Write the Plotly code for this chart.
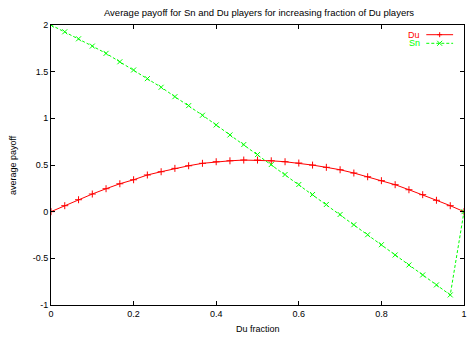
import plotly.graph_objects as go

du_fraction = [0, 0.0333, 0.0667, 0.1, 0.1333, 0.1667, 0.2, 0.2333, 0.2667, 0.3,
               0.3333, 0.3667, 0.4, 0.4333, 0.4667, 0.5, 0.5333, 0.5667, 0.6, 0.6333,
               0.6667, 0.7, 0.7333, 0.7667, 0.8, 0.8333, 0.8667, 0.9, 0.9333, 0.9667, 1.0]
du_payoff = [0, 0.064, 0.128, 0.189, 0.246, 0.299, 0.342, 0.393, 0.428, 0.464,
             0.492, 0.518, 0.535, 0.545, 0.553, 0.553, 0.545, 0.535, 0.521, 0.499,
             0.475, 0.449, 0.414, 0.374, 0.332, 0.289, 0.235, 0.182, 0.122, 0.064, 0]
sn_payoff = [2.0, 1.927, 1.852, 1.774, 1.696, 1.606, 1.518, 1.425, 1.333, 1.232,
             1.136, 1.033, 0.929, 0.822, 0.719, 0.612, 0.505, 0.398, 0.291, 0.184,
             0.077, -0.030, -0.140, -0.247, -0.354, -0.464, -0.571, -0.678, -0.785, -0.892, 0]

x_tickvals = [0, 0.2, 0.4, 0.6, 0.8, 1]
x_ticktext = ["0", "0.2", "0.4", "0.6", "0.8", "1"]
y_tickvals = [-1, -0.5, 0, 0.5, 1, 1.5, 2]
y_ticktext = ["-1", "-0.5", "0", "0.5", "1", "1.5", "2"]

RED = "#ff0000"
GREEN = "#00ff00"
FONT = "Liberation Sans, Arial, sans-serif"

fig = go.Figure()
fig.add_trace(go.Scatter(
    x=du_fraction, y=du_payoff, mode="lines+markers", name="Du",
    line=dict(color=RED, width=1),
    marker=dict(symbol="cross-thin", size=5, line=dict(color=RED, width=1)),
))
fig.add_trace(go.Scatter(
    x=du_fraction, y=sn_payoff, mode="lines+markers", name="Sn",
    line=dict(color=GREEN, width=1, dash="3px,2px"),
    marker=dict(symbol="x-thin", size=5, line=dict(color=GREEN, width=1)),
))

axis_common = dict(
    showgrid=False, zeroline=False, showline=True, linecolor="black", linewidth=1,
    mirror="ticks", ticks="inside", ticklen=4, tickcolor="black", tickwidth=1,
    tickfont=dict(family=FONT, size=9, color="black"),
)

fig.update_xaxes(range=[0, 1], tickvals=x_tickvals, ticktext=x_ticktext,
                 ticklabeloverflow="allow", **axis_common)
fig.update_yaxes(range=[-1, 2], tickvals=y_tickvals, ticktext=y_ticktext, **axis_common)

# custom legend (text left of sample, gnuplot style)
legend_items = [("Du", RED, 0.9654, "solid"), ("Sn", GREEN, 0.9346, "3px,2px")]
for name, color, yy, dash in legend_items:
    fig.add_annotation(x=0.898, y=yy, xref="paper", yref="paper", text=name,
                       showarrow=False, xanchor="right", yanchor="middle",
                       font=dict(family=FONT, size=9, color=color))
    fig.add_shape(type="line", xref="paper", yref="paper", x0=0.9087, x1=0.9736,
                  y0=yy, y1=yy, line=dict(color=color, width=1, dash=dash))

# legend markers drawn as small shapes
cx = 0.9411
dxp = 2.5 / 416
dyp = 2.5 / 280
fig.add_shape(type="line", xref="paper", yref="paper", x0=cx - dxp, x1=cx + dxp,
              y0=0.9654, y1=0.9654, line=dict(color=RED, width=1))
fig.add_shape(type="line", xref="paper", yref="paper", x0=cx, x1=cx,
              y0=0.9654 - dyp, y1=0.9654 + dyp, line=dict(color=RED, width=1))
fig.add_shape(type="line", xref="paper", yref="paper", x0=cx - dxp, x1=cx + dxp,
              y0=0.9346 - dyp, y1=0.9346 + dyp, line=dict(color=GREEN, width=1))
fig.add_shape(type="line", xref="paper", yref="paper", x0=cx - dxp, x1=cx + dxp,
              y0=0.9346 + dyp, y1=0.9346 - dyp, line=dict(color=GREEN, width=1))

# axis titles
fig.add_annotation(x=0.5, y=-0.0857, xref="paper", yref="paper", text="Du fraction",
                   showarrow=False, xanchor="center", yanchor="middle",
                   font=dict(family=FONT, size=9, color="black"))
fig.add_annotation(x=-0.092, y=0.5, xref="paper", yref="paper", text="average payoff",
                   showarrow=False, xanchor="center", yanchor="middle", textangle=-90,
                   font=dict(family=FONT, size=9, color="black"))

fig.update_layout(
    width=468, height=337,
    margin=dict(l=51, r=1, t=25, b=32),
    paper_bgcolor="white", plot_bgcolor="white",
    showlegend=False,
    title=dict(text="Average payoff for Sn and Du players for increasing fraction of Du players",
               x=0.5535, xanchor="center", y=0.962, yanchor="middle",
               font=dict(family=FONT, size=9.5, color="black")),
)

fig.write_html("out.html", config={"displayModeBar": False},
               post_script="document.body.style.margin='0px';document.body.style.overflow='hidden';")
